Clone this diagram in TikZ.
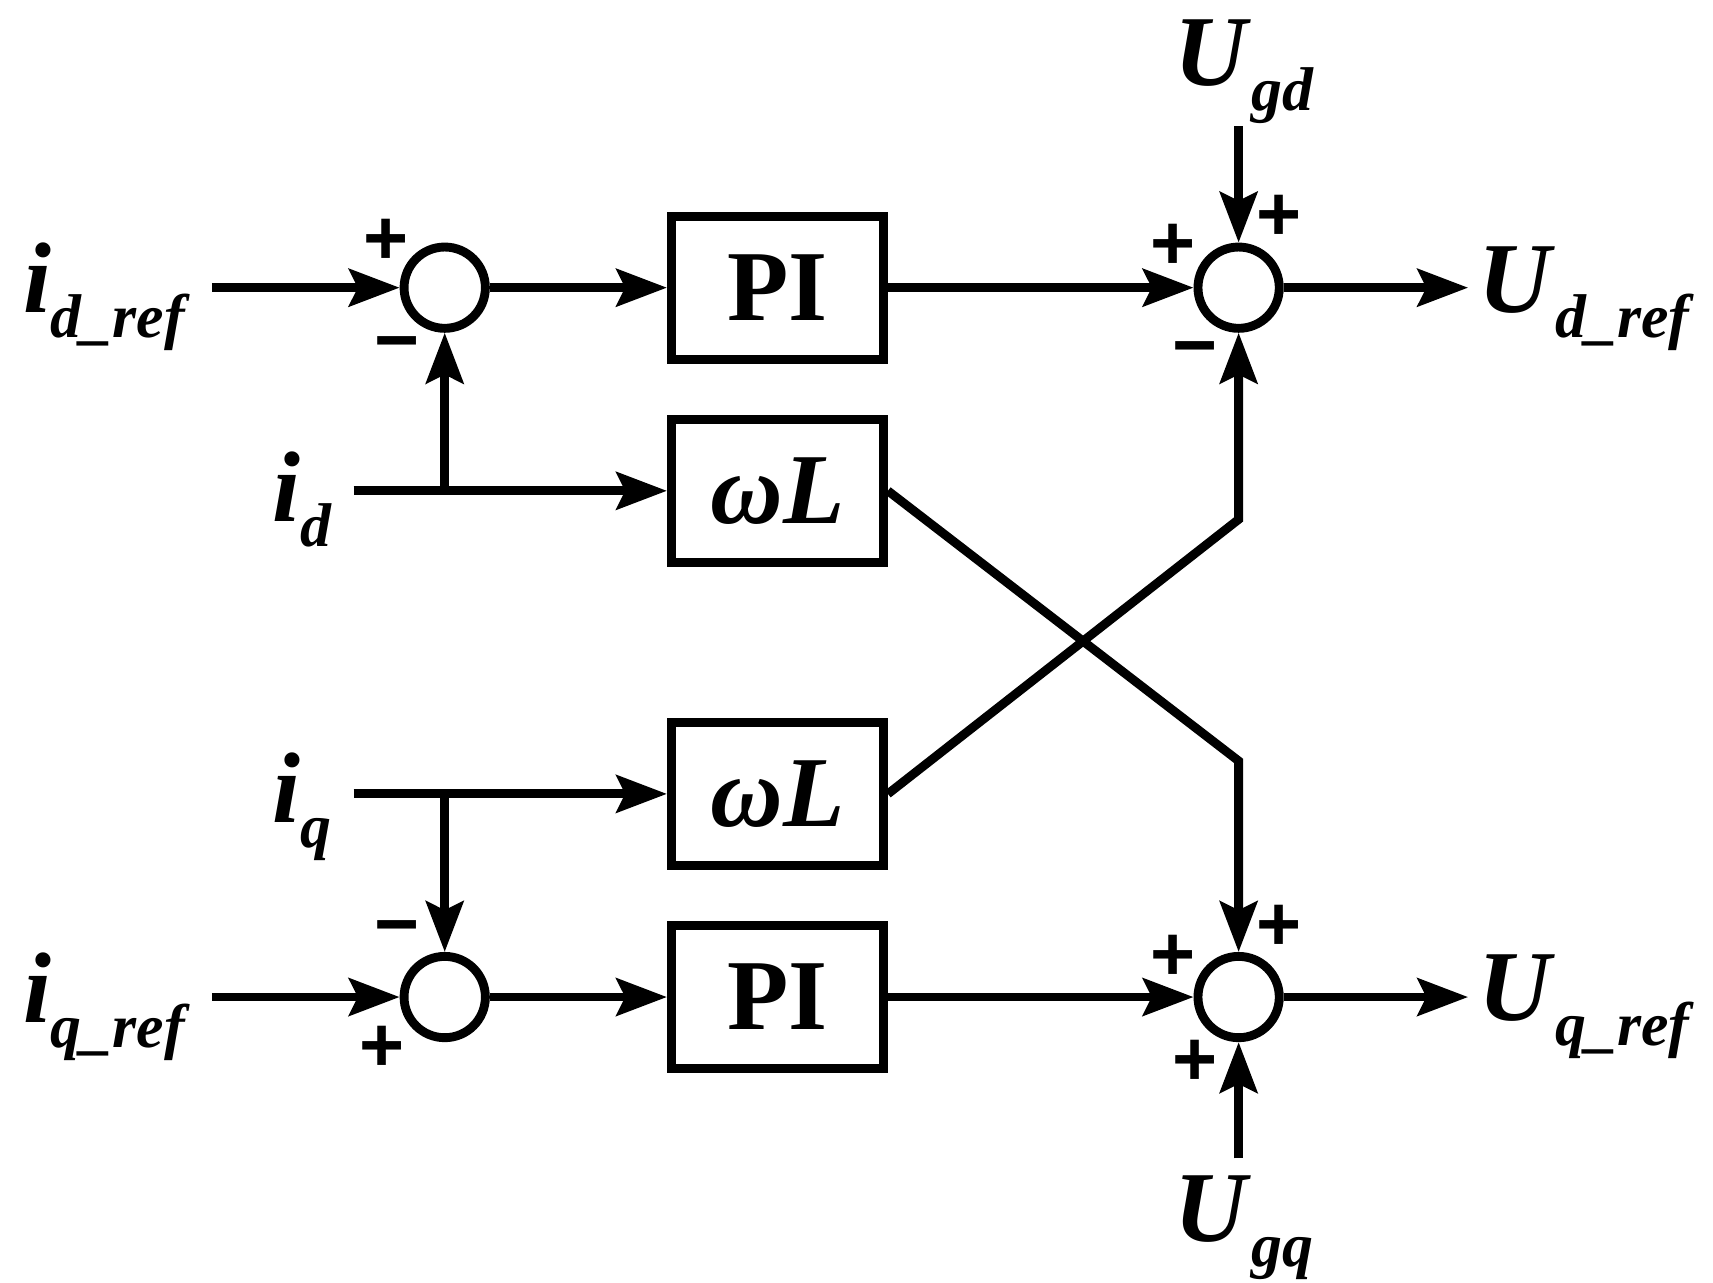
\documentclass[tikz,border=0pt]{standalone}
\usepackage{fontspec}
\setmainfont{Liberation Serif}[UprightFont=*,BoldFont=* Bold,ItalicFont=* Italic,BoldItalicFont=* Bold Italic]
\newfontfamily\sgfont{Liberation Sans}[BoldFont=* Bold]
\usetikzlibrary{arrows.meta}
\newcommand\mylbl[2]{\textbf{\textit{#1}}\raisebox{-0.25em}{\fontsize{16}{16}\selectfont\textbf{\textit{#2}}}}
\begin{document}
\begin{tikzpicture}[x=0.01cm,y=-0.01cm,
  line width=2.3pt,
  arr/.style={-{Stealth[length=0.46cm,width=0.34cm,inset=0.08cm]}},
  sum/.style={circle,draw,line width=2.3pt,minimum size=0.74cm,inner sep=0pt},
  blk/.style={draw,line width=2.3pt,minimum width=1.93cm,minimum height=1.30cm,inner sep=0pt,font=\fontsize{26}{30}\selectfont\bfseries},
  lab/.style={font=\fontsize{26}{30}\selectfont,inner sep=0pt},
  sg/.style={font=\fontsize{20}{20}\selectfont\bfseries\sgfont,inner sep=0pt}]
\useasboundingbox (0,0) rectangle (1560,1168);
\node[sum] (s1) at (405,262) {};
\node[sum] (s2) at (405,908) {};
\node[sum] (s3) at (1128,262) {};
\node[sum] (s4) at (1128,908) {};
\node[blk] (pi1) at (708,262) {PI};
\node[blk] (wl1) at (708,447) {\textit{ωL}};
\node[blk] (wl2) at (708,723) {\textit{ωL}};
\node[blk] (pi2) at (708,908) {PI};
\node[lab] (idref) at (97,270) {\mylbl{i}{d\_ref}};
\node[lab] (id) at (275,455) {\mylbl{i}{d}};
\node[lab] (iq) at (275,735) {\mylbl{i}{q}};
\node[lab] (iqref) at (97,917) {\mylbl{i}{q\_ref}};
\node[lab] (ugd) at (1133,65) {\mylbl{U}{gd}};
\node[lab] (ugq) at (1133,1118) {\mylbl{U}{gq}};
\node[lab] (udref) at (1445,272) {\mylbl{U}{d\_ref}};
\node[lab] (uqref) at (1445,917) {\mylbl{U}{q\_ref}};
\coordinate (a1) at (193,262);
\coordinate (a2) at (193,908);
\coordinate (b1) at (322,447);
\coordinate (b2) at (322,723);
\coordinate (j1) at (405,447);
\coordinate (j2) at (405,723);
\coordinate (g1) at (1128,115);
\coordinate (g2) at (1128,1055);
\coordinate (o1) at (1337,262);
\coordinate (o2) at (1337,908);
\coordinate (k1) at (1128,693);
\coordinate (k2) at (1128,473);
\draw[arr] (a1) -- (s1);
\draw[arr] (a2) -- (s2);
\draw[arr] (s1) -- (pi1);
\draw[arr] (s2) -- (pi2);
\draw[arr] (b1) -- (wl1);
\draw[arr] (b2) -- (wl2);
\draw[arr] (j1) -- (s1);
\draw[arr] (j2) -- (s2);
\draw[arr] (pi1) -- (s3);
\draw[arr] (pi2) -- (s4);
\draw[arr] (g1) -- (s3);
\draw[arr] (g2) -- (s4);
\draw[arr] (s3) -- (o1);
\draw[arr] (s4) -- (o2);
\draw[arr,line join=miter] (wl1.east) -- (k1) -- (s4);
\draw[arr,line join=miter] (wl2.east) -- (k2) -- (s3);
\node[sg] at (352,220) {+};
\node[sg] at (362,320) {−};
\node[sg] at (1068,225) {+};
\node[sg] at (1165,198) {+};
\node[sg] at (1088,325) {−};
\node[sg] at (362,852) {−};
\node[sg] at (348,955) {+};
\node[sg] at (1068,872) {+};
\node[sg] at (1165,845) {+};
\node[sg] at (1088,968) {+};
\end{tikzpicture}
\end{document}
